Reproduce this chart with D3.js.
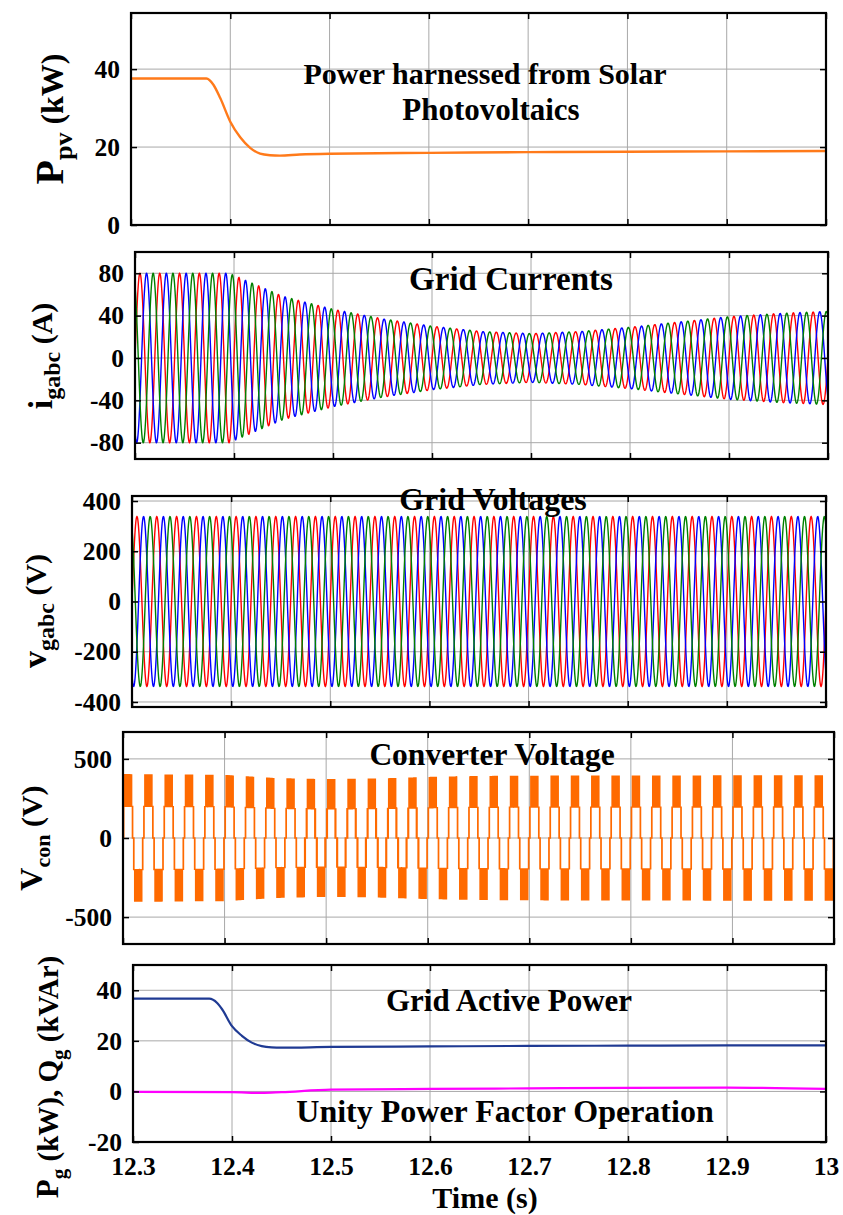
<!DOCTYPE html>
<html>
<head>
<meta charset="utf-8">
<script src="https://cdn.jsdelivr.net/npm/d3@7"></script>
<style>
  body { margin: 0; background: #fff; }
  svg { display: block; }
  text { font-family: "Liberation Serif", "Times New Roman", serif; font-weight: bold; fill: #000; }
</style>
</head>
<body>
<svg id="fig" width="843" height="1215"></svg>
<script>
// ---------------- data ----------------
const timeTicks = [12.3, 12.4, 12.5, 12.6, 12.7, 12.8, 12.9, 13];

// PV power (kW)
const pvTime  = [12.30, 12.376, 12.383, 12.39, 12.40, 12.41, 12.42, 12.43, 12.44, 12.45, 12.47, 12.50, 12.60, 12.70, 12.80, 12.90, 13.00];
const pvPower = [37.6, 37.6, 36.0, 32.5, 26.5, 22.5, 19.8, 18.3, 17.9, 17.8, 18.1, 18.3, 18.5, 18.7, 18.8, 18.9, 19.0];

// grid current peak envelope (A)
const iEnvTime = [12.30, 12.395, 12.41, 12.43, 12.45, 12.50, 12.55, 12.60, 12.65, 12.70, 12.75, 12.80, 12.85, 12.90, 12.95, 13.00];
const iEnvPeak = [80, 80, 74, 66, 58, 46, 37, 30, 25, 23, 25, 29, 34, 39, 42, 44];

// three-phase set
const gridFreq = 50;                                  // Hz
const phaseColors = ["#ff0000", "#0000ff", "#008000"];
const phaseShiftDeg = [0, -120, 120];

// grid voltage peak (V)
const vPeak = 338;

// converter voltage: top level and modulation index over time
const vconTime  = [12.30, 12.40, 12.45, 12.50, 12.55, 12.60, 12.65, 12.70, 12.80, 12.90, 13.00];
const vconTop   = [400, 395, 375, 368, 372, 382, 388, 390, 391, 392, 392];
const vconIndex = [2.9, 2.9, 2.7, 2.5, 2.5, 2.6, 2.7, 2.7, 2.8, 2.9, 2.9];
const carrierFreq = 2000;                             // Hz

// grid active / reactive power
const pgTime  = [12.30, 12.377, 12.385, 12.39, 12.40, 12.41, 12.42, 12.43, 12.44, 12.45, 12.50, 12.60, 12.70, 12.80, 12.90, 13.00];
const pgPower = [36.7, 36.7, 35.0, 32.5, 25.8, 22.0, 19.3, 17.9, 17.4, 17.3, 17.6, 17.8, 18.0, 18.1, 18.2, 18.2];
const qgTime  = [12.30, 12.40, 12.43, 12.45, 12.50, 12.60, 12.70, 12.80, 12.90, 13.00];
const qgPower = [-0.2, -0.3, -0.6, -0.3, 0.7, 1.0, 1.2, 1.4, 1.5, 1.0];

// ---------------- layout ----------------
const panels = [
  { left: 131, right: 826, top: 13,  bottom: 225, y: [0, 54.4],   yTicks: [0, 20, 40] },
  { left: 135, right: 828, top: 252, bottom: 459, y: [-95.4, 100.1], yTicks: [-80, -40, 0, 40, 80] },
  { left: 132, right: 826, top: 496, bottom: 707, y: [-420, 420], yTicks: [-400, -200, 0, 200, 400] },
  { left: 123, right: 834, top: 732, bottom: 944, y: [-670, 670], yTicks: [-500, 0, 500] },
  { left: 133, right: 826, top: 965, bottom: 1142, y: [-20, 50],  yTicks: [-20, 0, 20, 40] }
];

const svg = d3.select("#fig");

panels.forEach((p, i) => {
  p.x = d3.scaleLinear().domain([timeTicks[0], timeTicks[timeTicks.length - 1]]).range([p.left, p.right]);
  p.yS = d3.scaleLinear().domain(p.y).range([p.bottom, p.top]);
  const g = svg.append("g");
  p.g = g;
  // grid
  g.append("g").selectAll("line").data(timeTicks.slice(1, -1)).join("line")
    .attr("x1", d => p.x(d)).attr("x2", d => p.x(d))
    .attr("y1", p.top).attr("y2", p.bottom)
    .attr("stroke", "#a8a8a8").attr("stroke-width", 1);
  g.append("g").selectAll("line").data(p.yTicks.filter(v => v > p.y[0] && v < p.y[1])).join("line")
    .attr("x1", p.left).attr("x2", p.right)
    .attr("y1", d => p.yS(d)).attr("y2", d => p.yS(d))
    .attr("stroke", "#a8a8a8").attr("stroke-width", 1);
  // clip for traces
  svg.append("clipPath").attr("id", "clip" + i).append("rect")
    .attr("x", p.left).attr("y", p.top).attr("width", p.right - p.left).attr("height", p.bottom - p.top);
  p.plot = g.append("g").attr("clip-path", `url(#clip${i})`);
});

// ---------------- traces ----------------
const pLine = (p, xs, ys) => d3.line().curve(d3.curveMonotoneX)
  .x((d, k) => p.x(xs[k])).y((d, k) => p.yS(ys[k]))(xs);

// PV power
panels[0].plot.append("path").attr("d", pLine(panels[0], pvTime, pvPower))
  .attr("fill", "none").attr("stroke", "#ff7a1a").attr("stroke-width", 2.4);

// sampled time base for sinusoids
const t0 = timeTicks[0], t1 = timeTicks[timeTicks.length - 1];
const sinTimes = d3.range(t0, t1 + 1e-9, 0.00025);
const iEnv = d3.scaleLinear().domain(iEnvTime).range(iEnvPeak);
const w = 2 * Math.PI * gridFreq;

// grid currents
phaseShiftDeg.forEach((ph, k) => {
  const p = panels[1];
  const line = d3.line().x(t => p.x(t)).y(t => p.yS(iEnv(t) * Math.sin(w * t + ph * Math.PI / 180)));
  p.plot.append("path").attr("d", line(sinTimes)).attr("fill", "none")
    .attr("stroke", phaseColors[k]).attr("stroke-width", 1.4);
});

// grid voltages
phaseShiftDeg.forEach((ph, k) => {
  const p = panels[2];
  const line = d3.line().x(t => p.x(t)).y(t => p.yS(vPeak * Math.sin(w * t + ph * Math.PI / 180)));
  p.plot.append("path").attr("d", line(sinTimes)).attr("fill", "none")
    .attr("stroke", phaseColors[k]).attr("stroke-width", 1.4);
});

// converter voltage: level-shifted PWM between 0, +-top/2, +-top
{
  const p = panels[3];
  const topS = d3.scaleLinear().domain(vconTime).range(vconTop);
  const mS = d3.scaleLinear().domain(vconTime).range(vconIndex);
  const dt = 4e-6;
  const pts = [];
  let prev = null;
  for (let t = t0; t <= t1 + 1e-12; t += dt) {
    let r = mS(t) * Math.sin(w * t);
    r = Math.max(-1.985, Math.min(1.985, r));
    const a = Math.abs(r);
    const base = Math.floor(a);
    const frac = a - base;
    const cph = (t * carrierFreq) % 1;
    const carrier = cph < 0.5 ? 2 * cph : 2 - 2 * cph;
    const lvl = Math.sign(r) * (base + (frac > carrier ? 1 : 0));
    if (prev === null) { pts.push([t, lvl]); }
    else if (lvl !== prev) { pts.push([t, prev]); pts.push([t, lvl]); }
    prev = lvl;
  }
  pts.push([t1, prev]);
  const line = d3.line().x(d => p.x(d[0])).y(d => p.yS(d[1] * topS(d[0]) / 2));
  p.plot.append("path").attr("d", line(pts)).attr("fill", "none")
    .attr("stroke", "#ff6a00").attr("stroke-width", 1.3).attr("stroke-linejoin", "miter");
}

// grid P and Q
panels[4].plot.append("path").attr("d", pLine(panels[4], qgTime, qgPower))
  .attr("fill", "none").attr("stroke", "#ff00ff").attr("stroke-width", 2.2);
panels[4].plot.append("path").attr("d", pLine(panels[4], pgTime, pgPower))
  .attr("fill", "none").attr("stroke", "#1f3a93").attr("stroke-width", 2.2);

// ---------------- frames, ticks and labels ----------------
panels.forEach((p, i) => {
  const g = p.g;
  g.append("rect").attr("x", p.left).attr("y", p.top)
    .attr("width", p.right - p.left).attr("height", p.bottom - p.top)
    .attr("fill", "none").attr("stroke", "#000").attr("stroke-width", 2.2);

  const yl = g.append("g").attr("transform", `translate(${p.left},0)`)
    .call(d3.axisLeft(p.yS).tickValues(p.yTicks).tickSize(-6).tickPadding(11).tickFormat(d => String(d)));
  yl.select(".domain").remove();
  yl.selectAll("line").attr("stroke-width", 1.5);
  yl.selectAll("text").attr("font-size", 25.5).attr("font-family", null);

  const yr = g.append("g").attr("transform", `translate(${p.right},0)`)
    .call(d3.axisRight(p.yS).tickValues(p.yTicks).tickSize(-6).tickFormat(""));
  yr.select(".domain").remove();
  yr.selectAll("line").attr("stroke-width", 1.5);

  const xt = g.append("g").attr("transform", `translate(0,${p.top})`)
    .call(d3.axisTop(p.x).tickValues(timeTicks).tickSize(-6).tickFormat(""));
  xt.select(".domain").remove();
  xt.selectAll("line").attr("stroke-width", 1.5);

  const xb = g.append("g").attr("transform", `translate(0,${p.bottom})`)
    .call(d3.axisBottom(p.x).tickValues(timeTicks).tickSize(-6).tickPadding(15)
      .tickFormat(i === panels.length - 1 ? (d => String(d)) : ""));
  xb.select(".domain").remove();
  xb.selectAll("line").attr("stroke-width", 1.5);
  xb.selectAll("text").attr("font-size", 25.5).attr("font-family", null);
});

// rotated y-axis titles with subscripts
const yTitles = [
  { cx: 63, cy: 119, parts: [["P", 40, 0], ["pv", 26, 9], [" (kW)", 32, -9]] },
  { cx: 52, cy: 356, parts: [["i", 34, 0], ["gabc", 24, 8], [" (A)", 30, -8]] },
  { cx: 46, cy: 611, parts: [["v", 34, 0], ["gabc", 24, 8], [" (V)", 30, -8]] },
  { cx: 42, cy: 838, parts: [["V", 32, 0], ["con", 22, 8], [" (V)", 30, -8]] },
  { cx: 58, cy: 1077, parts: [["P", 31, 0], ["g", 21, 8], [" (kW), Q", 29, -8], ["g", 21, 8], [" (kVAr)", 29, -8]] }
];
yTitles.forEach(t => {
  const txt = svg.append("text").attr("text-anchor", "middle")
    .attr("transform", `translate(${t.cx},${t.cy}) rotate(-90)`);
  t.parts.forEach(([s, fs, dy]) => {
    txt.append("tspan").attr("font-size", fs).attr("dy", dy).text(s);
  });
});

// panel titles: text, x, baseline, size
const titles = [
  ["Power harnessed from Solar", 485, 84, 30],
  ["Photovoltaics", 491, 120, 31],
  ["Grid Currents", 511, 290, 33],
  ["Grid Voltages", 493, 510, 32],
  ["Converter Voltage", 492, 765, 31.5],
  ["Grid Active Power", 509, 1011, 31],
  ["Unity Power Factor Operation", 505, 1122, 32],
  ["Time (s)", 485, 1208, 30]
];
svg.append("g").selectAll("text").data(titles).join("text")
  .attr("x", d => d[1]).attr("y", d => d[2]).attr("text-anchor", "middle")
  .attr("font-size", d => d[3]).text(d => d[0]);
</script>
</body>
</html>
